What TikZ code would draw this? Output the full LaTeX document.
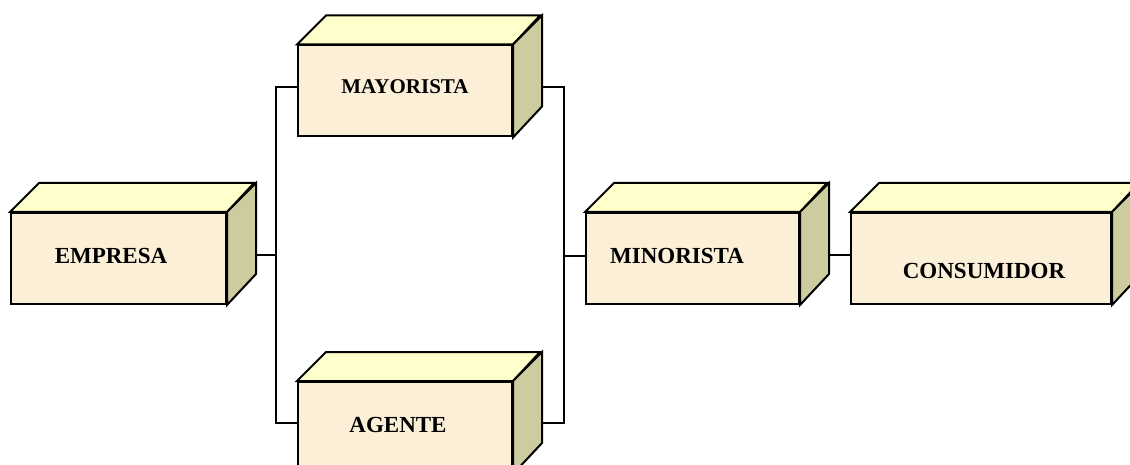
\documentclass[tikz,border=0pt]{standalone}
\usepackage{fontspec}
\setmainfont{Liberation Serif}
\pgfdeclarelayer{background}
\pgfsetlayers{background,main}
\definecolor{frontc}{HTML}{FBEFD8}
\definecolor{topc}{HTML}{FFFFCC}
\definecolor{sidec}{HTML}{CCCC9E}
\tikzset{
  frontbox/.style={draw=black, line width=2pt, fill=frontc, inner sep=0pt, minimum height=91pt},
  topface/.style={draw=black, line width=2pt, fill=topc, line join=miter},
  sideface/.style={draw=black, line width=2pt, fill=sidec, line join=miter},
  lbl/.style={font=\fontsize{23}{27}\selectfont\bfseries, inner sep=0pt, anchor=base},
  conn/.style={draw=black, line width=2pt},
}
\newcommand\mkcube[4]{%
  \node[frontbox, minimum width=#4] (#1) at (#2,#3) {};
  \draw[topface] (#1.north west) -- ++(29,-29) -- ++(#4,0) -- (#1.north east) -- cycle;
  \draw[sideface] (#1.north east) -- ++(29,-29) -- ++(0,91) -- (#1.south east) -- cycle;
}
\begin{document}
\begin{tikzpicture}[x=1pt,y=-1pt]
\useasboundingbox (0,0) rectangle (1130,465);
\clip (0,0) rectangle (1130,465);
\mkcube{emp}{118.5}{258.5}{215pt}
\mkcube{may}{405}{91}{214pt}
\mkcube{age}{405}{427.5}{214pt}
\mkcube{min}{692.5}{258.5}{213pt}
\mkcube{con}{981}{258.5}{260pt}
\node[lbl] (empT) at (111,264) {EMPRESA};
\node[lbl, font=\fontsize{21}{25}\selectfont\bfseries] (mayT) at (405,94) {MAYORISTA};
\node[lbl] (ageT) at (398,432) {AGENTE};
\node[lbl] (minT) at (677,263) {MINORISTA};
\node[lbl] (conT) at (984,278) {CONSUMIDOR};
\coordinate (jl) at (276,255);
\coordinate (jr) at (564,256);
\begin{pgfonlayer}{background}
\draw[conn] ([yshift=3.5pt]emp.east) -- (jl);
\draw[conn] ([yshift=4pt]may.west) -| (jl) |- ([yshift=4.5pt]age.west);
\draw[conn] ([yshift=4pt]may.east) -| (jr) |- ([yshift=4.5pt]age.east);
\draw[conn] (jr) -- ([yshift=2.5pt]min.west);
\draw[conn] ([yshift=3.5pt]min.east) -- ([yshift=3.5pt]con.west);
\end{pgfonlayer}
\end{tikzpicture}
\end{document}
